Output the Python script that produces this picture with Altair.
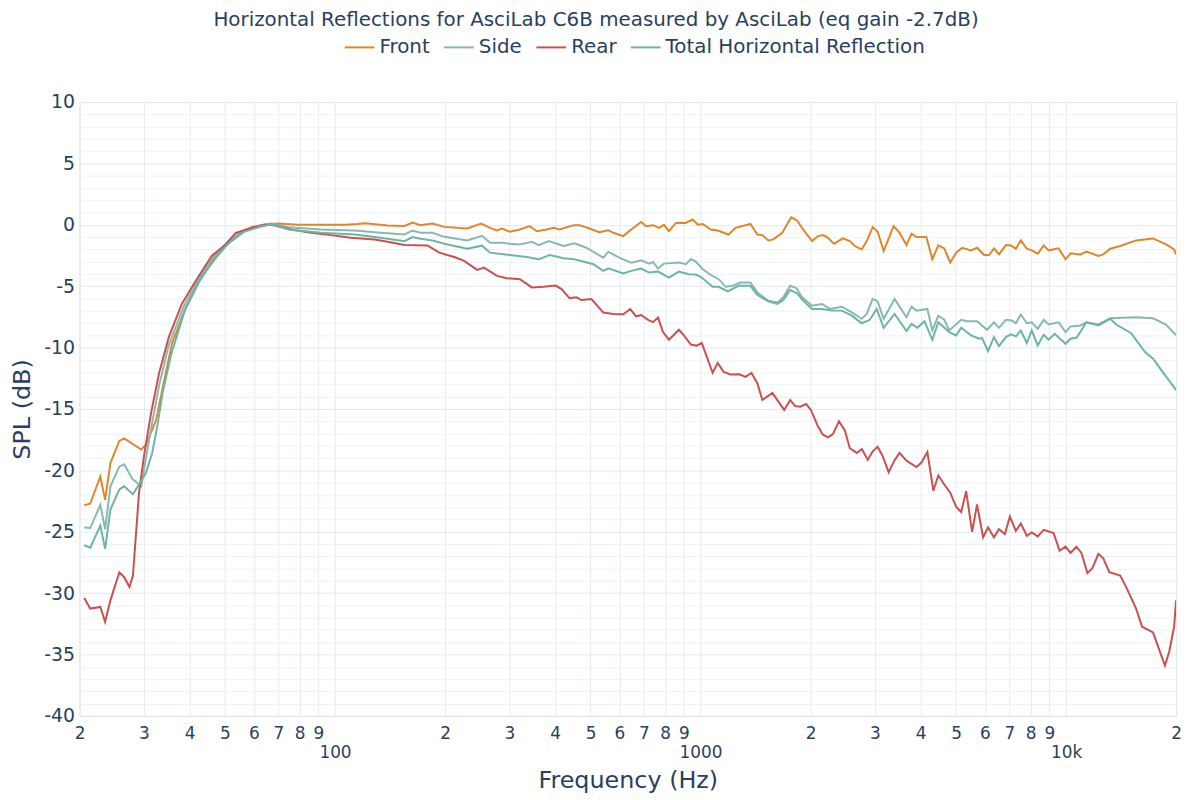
import altair as alt
import pandas as pd

# ---- data (frequency in Hz, level in dB) ----
front_freq = [20.6, 21.4, 22.8, 23.5, 24.3, 25.7, 26.5, 29.5, 30.4, 31.4, 32.4, 34.1, 35.8, 39.1, 42.4, 47.2, 51.2, 54.5, 59.1, 64.5,
              70.0, 79.3, 93.9, 106.4, 115.5, 120.6, 139.3, 155.0, 162.9, 171.3, 184.7, 199.1, 229.9, 251.0, 265.5, 277.4, 286.2, 300.9, 320.4, 341.1,
              356.4, 379.4, 396.4, 411.6, 449.3, 466.5, 496.6, 528.7, 559.4, 577.1, 614.4, 646.0, 687.7, 709.6, 741.4, 769.8, 794.3, 819.6, 856.3, 911.6,
              928.9, 940.6, 952.4, 982.7, 1014, 1066, 1114, 1193, 1247, 1369, 1431, 1476, 1533, 1582, 1673, 1770, 1838, 1908, 2019, 2096,
              2163, 2232, 2317, 2452, 2561, 2643, 2761, 2849, 2958, 3052, 3169, 3374, 3503, 3660, 3776, 3896, 4148, 4307, 4472, 4643,
              4821, 5005, 5197, 5498, 5709, 5965, 6154, 6350, 6552, 6845, 7063, 7288, 7520, 7808, 8056, 8365, 8684, 8961, 9540, 9967,
              10284, 10948, 11368, 12255, 12644, 13210, 14064, 15547, 17293, 18760, 19750, 20000]
front_db = [-22.85, -22.7, -20.5, -22.4, -19.4, -17.6, -17.4, -18.3, -17.9, -16.9, -15.9, -12.65, -9.7, -6.7, -4.56, -2.7, -1.46, -0.65, -0.2, 0.05,
            0.1, 0.0, 0.0, 0.0, 0.07, 0.13, -0.06, -0.1, 0.18, -0.03, 0.1, -0.17, -0.3, 0.1, -0.25, -0.46, -0.3, -0.57, -0.38, -0.11,
            -0.52, -0.38, -0.25, -0.38, -0.03, -0.03, -0.3, -0.6, -0.44, -0.65, -0.92, -0.38, 0.23, -0.11, -0.03, -0.25, 0.0, -0.52, 0.15, 0.15,
            0.29, 0.35, 0.43, 0.0, 0.07, -0.38, -0.46, -0.79, -0.25, 0.07, -0.79, -0.84, -1.27, -1.19, -0.65, 0.61, 0.35, -0.38, -1.33, -0.92,
            -0.84, -1.06, -1.54, -1.11, -1.33, -1.73, -2.0, -1.33, -0.19, -0.57, -2.14, -0.11, -0.65, -1.65, -0.73, -1.0, -1.0, -2.8, -1.68, -1.92,
            -3.08, -2.27, -1.87, -2.08, -1.87, -2.46, -2.46, -1.92, -2.41, -1.65, -1.68, -1.95, -1.27, -1.95, -2.08, -2.35, -1.68, -2.08, -1.92, -2.81,
            -2.32, -2.41, -2.19, -2.54, -2.41, -1.95, -1.73, -1.27, -1.11, -1.6, -2.0, -2.41]

side_freq = [20.6, 21.4, 22.8, 23.5, 24.3, 25.7, 26.5, 27.9, 29.5, 31.0, 33.0, 35.1, 38.6, 42.4, 46.6, 51.2, 56.2, 61.7, 67.0, 74.5,
             91.6, 113.3, 133.3, 155.0, 162.9, 171.3, 184.7, 199.1, 229.9, 252.5, 265.5, 286.2, 300.9, 320.4, 345.4, 360.9, 384.2, 422.0, 452.1, 487.4,
             542.1, 559.4, 599.2, 646.0, 687.7, 723.1, 741.4, 765.0, 794.3, 872.5, 911.6, 940.6, 970.5, 1014, 1066, 1121, 1171, 1223, 1286, 1369,
             1431, 1533, 1622, 1684, 1759, 1827, 1896, 2019, 2149, 2260, 2436, 2594, 2761, 2849, 2958, 3052, 3169, 3395, 3660, 3776,
             3896, 4174, 4307, 4472, 4643, 4791, 5165, 5362, 5709, 6078, 6350, 6552, 6845, 7108, 7288, 7520, 7808, 8056, 8365, 8684,
             8961, 9540, 9967, 10284, 10948, 11368, 12255, 13210, 15547, 17293, 18760, 20000]
side_db = [-24.65, -24.7, -22.8, -24.8, -21.3, -19.7, -19.5, -20.7, -21.3, -17.5, -13.1, -9.8, -6.6, -4.4, -2.6, -1.3, -0.5, -0.1, 0.1, -0.2,
           -0.38, -0.46, -0.65, -0.79, -0.46, -0.65, -0.65, -0.98, -1.27, -0.9, -1.46, -1.46, -1.54, -1.6, -1.38, -1.65, -1.33, -1.73, -1.51, -1.87,
           -2.68, -2.19, -2.68, -3.08, -2.89, -3.16, -3.03, -3.56, -3.16, -3.08, -3.21, -2.81, -3.0, -3.62, -4.08, -4.43, -5.05, -4.97, -4.7, -4.7,
           -5.51, -6.18, -6.32, -5.91, -4.97, -5.15, -5.91, -6.59, -6.45, -6.85, -6.67, -7.13, -7.66, -7.26, -6.04, -6.24, -7.66, -6.04, -7.53, -6.67,
           -6.99, -6.85, -8.6, -7.4, -7.72, -8.6, -7.74, -7.85, -7.85, -8.55, -7.94, -8.39, -7.74, -7.8, -8.02, -7.31, -8.02, -7.94, -8.47, -7.74,
           -8.12, -7.94, -8.74, -8.28, -8.2, -7.94, -8.12, -7.61, -7.53, -7.61, -8.12, -9.0]

rear_freq = [20.6, 21.4, 22.8, 23.5, 24.3, 25.7, 26.5, 27.4, 28.0, 29.1, 30.0, 31.4, 33.0, 35.1, 38.1, 41.6, 46.0, 50.2, 53.5, 59.1,
             64.5, 67.0, 75.9, 86.0, 97.5, 110.5, 128.4, 139.3, 155.0, 179.0, 192.9, 211.9, 225.6, 244.8, 255.7, 277.4, 295.3, 320.4, 345.4, 372.3,
             401.4, 416.7, 438.2, 457.8, 472.3, 502.9, 542.1, 577.1, 614.4, 642.0, 666.5, 687.7, 718.6, 741.4, 765.0, 789.3, 819.6, 872.5, 900.3, 940.6,
             976.6, 1007.6, 1079, 1114, 1156, 1208, 1278, 1327, 1378, 1431, 1476, 1572, 1694, 1759, 1815, 1873, 1945, 2006, 2096, 2163,
             2232, 2303, 2391, 2482, 2561, 2676, 2761, 2867, 2958, 3052, 3149, 3270, 3395, 3503, 3660, 3896, 4020, 4174, 4334, 4472,
             4643, 4821, 5005, 5165, 5329, 5533, 5709, 5928, 6116, 6350, 6552, 6803, 7019, 7288, 7520, 7808, 8056, 8365, 8684, 9246,
             9600, 9967, 10284, 10678, 11018, 11439, 11803, 12255, 12644, 13128, 14064, 14603, 15547, 16142, 17293, 18642, 19150, 19750, 20000]
rear_db = [-30.4, -31.26, -31.13, -32.34, -30.59, -28.3, -28.7, -29.5, -28.57, -21.8, -18.9, -15.3, -12.1, -9.15, -6.45, -4.56, -2.54, -1.6, -0.65, -0.25,
           0.0, 0.0, -0.38, -0.65, -0.84, -1.05, -1.19, -1.38, -1.65, -1.68, -2.27, -2.62, -2.94, -3.67, -3.49, -4.16, -4.35, -4.43, -5.1, -5.05,
           -4.95, -5.24, -5.97, -5.91, -6.13, -6.05, -7.15, -7.26, -7.28, -6.86, -7.45, -7.35, -7.74, -7.93, -7.56, -8.74, -9.36, -8.55, -9.01, -9.75,
           -9.85, -9.63, -12.06, -11.25, -11.98, -12.19, -12.17, -12.38, -12.06, -12.92, -14.27, -13.7, -15.08, -14.27, -14.76, -14.81, -14.6, -15.1, -16.43, -17.1,
           -17.32, -17.05, -16.0, -16.75, -18.2, -18.58, -18.26, -19.13, -18.45, -18.08, -18.83, -20.15, -19.17, -18.58, -19.21, -19.73, -19.37, -18.5, -21.66, -20.42,
           -21.15, -21.82, -22.98, -23.39, -21.69, -25.01, -22.77, -25.46, -24.65, -25.46, -24.79, -25.19, -23.76, -24.93, -24.33, -25.33, -25.06, -25.38, -24.85, -25.11,
           -26.55, -26.22, -26.73, -26.22, -26.73, -28.37, -27.97, -26.81, -27.16, -28.29, -28.57, -29.51, -31.26, -32.74, -33.2, -35.9, -34.77, -32.74, -30.59]

total_freq = [20.6, 21.4, 22.8, 23.5, 24.3, 25.7, 26.5, 28.0, 29.1, 30.4, 31.6, 32.6, 33.8, 35.6, 38.8, 42.4, 46.6, 51.2, 56.2, 61.7,
              67.0, 74.5, 91.6, 113.3, 133.3, 155.0, 162.9, 171.3, 184.7, 199.1, 229.9, 252.5, 265.5, 300.9, 334.7, 360.9, 386.6, 422.0, 452.1, 509.2,
              542.1, 559.4, 614.4, 646.0, 687.7, 723.1, 765.0, 819.6, 872.5, 928.9, 970.5, 1001, 1079, 1121, 1186, 1270, 1369, 1431, 1533, 1622,
              1684, 1759, 1838, 1908, 2019, 2149, 2288, 2436, 2594, 2761, 2903, 3033, 3169, 3395, 3660, 3776, 3921, 4097, 4307, 4472,
              4791, 5005, 5165, 5498, 5781, 5891, 6116, 6350, 6552, 6845, 7063, 7288, 7520, 7808, 8056, 8365, 8684, 8961, 9304, 9967,
              10284, 10678, 11368, 12255, 13210, 13717, 15068, 16448, 17293, 18182, 20000]
total_db = [-26.1, -26.3, -24.5, -26.4, -23.2, -21.55, -21.3, -21.95, -21.15, -20.2, -18.6, -16.5, -13.6, -10.6, -7.0, -4.7, -2.8, -1.5, -0.6, -0.2,
            0.05, -0.38, -0.65, -0.79, -1.06, -1.33, -1.0, -1.14, -1.27, -1.54, -1.95, -1.7, -2.27, -2.46, -2.62, -2.81, -2.46, -2.73, -2.81, -3.21,
            -3.75, -3.54, -3.97, -3.75, -3.56, -3.89, -3.81, -4.3, -3.81, -4.02, -4.05, -4.24, -5.05, -5.05, -5.43, -4.97, -4.97, -5.72, -6.24, -6.45,
            -6.12, -5.32, -5.59, -6.18, -6.85, -6.85, -6.99, -6.99, -7.4, -8.02, -7.74, -6.85, -8.39, -7.26, -8.66, -8.07, -8.39, -7.85, -9.36, -7.94,
            -8.74, -9.01, -8.39, -9.01, -9.28, -9.23, -10.28, -9.15, -9.88, -9.15, -8.93, -9.09, -8.61, -9.63, -8.61, -9.82, -8.96, -9.36, -8.88, -9.69,
            -9.28, -9.2, -7.94, -8.2, -7.66, -8.12, -8.83, -10.36, -10.9, -11.79, -13.46]

series_names = ["Front", "Side", "Rear", "Total Horizontal Reflection"]
series_colors = ["#e0862a", "#87b8b1", "#c9504f", "#6cb4a6"]

x_tick_values = [20, 30, 40, 50, 60, 70, 80, 90,
                 100, 200, 300, 400, 500, 600, 700, 800, 900,
                 1000, 2000, 3000, 4000, 5000, 6000, 7000, 8000, 9000,
                 10000, 20000]
y_tick_values = list(range(-40, 11))

rows = []
for name, fr, db in [("Front", front_freq, front_db), ("Side", side_freq, side_db),
                     ("Rear", rear_freq, rear_db), ("Total Horizontal Reflection", total_freq, total_db)]:
    for i, (f, d) in enumerate(zip(fr, db)):
        rows.append({"Frequency": f, "SPL": d, "Curve": name, "idx": i})
df = pd.DataFrame(rows)

FONT = "DejaVu Sans"
TXT = "#2a3f5f"

x_label_expr = ("datum.value == 100 ? ['', '100'] : datum.value == 1000 ? ['', '1000'] : "
                "datum.value == 10000 ? ['', '10k'] : substring(toString(datum.value), 0, 1)")

chart = alt.Chart(df).mark_line(strokeWidth=2, clip=True).encode(
    x=alt.X("Frequency:Q",
            scale=alt.Scale(type="log", domain=[20, 20000], nice=False),
            axis=alt.Axis(values=x_tick_values, labelExpr=x_label_expr, title="Frequency (Hz)",
                          grid=True, gridColor="#e6ebf3", domain=False, ticks=False,
                          labelFont=FONT, labelFontSize=17, labelColor=TXT, labelPadding=10,
                          labelLineHeight=19, labelOverlap=False, labelFlush=False, labelBound=False,
                          titleFont=FONT, titleFontSize=24, titleColor=TXT, titleFontWeight="normal",
                          titlePadding=8)),
    y=alt.Y("SPL:Q",
            scale=alt.Scale(domain=[-40, 10], nice=False, zero=False),
            axis=alt.Axis(values=y_tick_values,
                          labelExpr="datum.value % 5 == 0 ? toString(datum.value) : ''",
                          title="SPL (dB)", grid=True,
                          gridColor={"condition": {"test": "datum.value % 5 === 0", "value": "#e2e8f0"},
                                     "value": "#eef2f7"},
                          domain=False, ticks=False,
                          labelFont=FONT, labelFontSize=19, labelColor=TXT, labelPadding=5,
                          labelOverlap=False, labelFlush=False,
                          titleFont=FONT, titleFontSize=24, titleColor=TXT, titleFontWeight="normal",
                          titlePadding=9)),
    color=alt.Color("Curve:N",
                    scale=alt.Scale(domain=series_names, range=series_colors),
                    sort=series_names,
                    legend=alt.Legend(orient="none", legendX=266, legendY=-71, direction="horizontal",
                                      title=None, symbolType="stroke", symbolSize=900, symbolStrokeWidth=2,
                                      labelFont=FONT, labelFontSize=20, labelColor=TXT, labelLimit=500,
                                      columnPadding=10, labelOffset=4)),
    order="idx:Q",
).properties(
    width=1104,
    height=618,
    title=alt.Title("Horizontal Reflections for AsciLab C6B measured by AsciLab (eq gain -2.7dB)",
                    font=FONT, fontSize=20, fontWeight="normal", color=TXT,
                    anchor="middle", frame="group", offset=2, dx=-32),
    autosize=alt.AutoSizeParams(type="none"),
    padding={"left": 72, "top": 92, "right": 16, "bottom": 80},
).configure_view(stroke=None).configure(background="white")

chart.save("out.html", embed_options={"renderer": "svg", "actions": False})
